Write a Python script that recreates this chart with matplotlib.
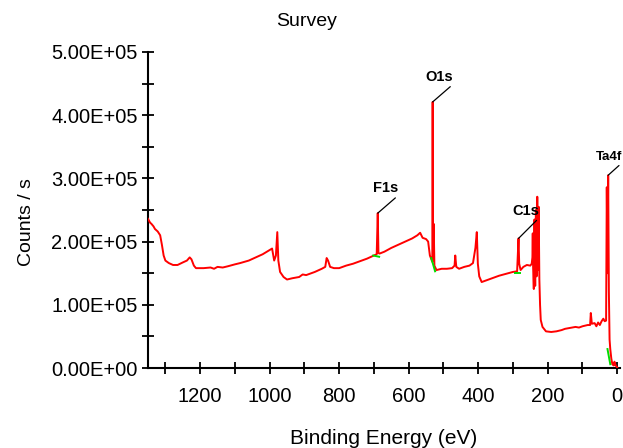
import matplotlib
matplotlib.use("Agg")
import matplotlib.pyplot as plt
from matplotlib.ticker import MultipleLocator, FuncFormatter

plt.rcParams['font.family'] = ['Liberation Sans', 'DejaVu Sans']

# Binding energy (eV) and counts/s
energy = [1350, 1344, 1340, 1334, 1330, 1322, 1315, 1310, 1305, 1300, 1290, 1278, 1265, 1250, 1238,
          1230, 1225, 1218, 1212, 1190, 1170, 1160, 1150, 1135, 1120, 1100, 1085, 1060, 1040,
          1020, 1005, 993, 987, 982, 978, 975, 970, 960, 950, 935, 915, 905, 895, 870, 850,
          840, 836, 832, 826, 815, 800, 780, 760, 740, 720, 700, 692, 689, 687, 684,
          670, 650, 630, 610, 590, 575, 567, 560, 550, 544, 539, 535, 532, 531, 530,
          528, 526, 520, 505, 490, 475, 468, 466, 463, 455, 440, 425, 415, 408, 404,
          401, 397, 390, 380, 360, 340, 320, 300, 288, 284, 282, 278, 270, 260, 250,
          246, 244, 243, 242, 240, 238, 236, 234, 232, 230, 228, 226, 224, 222, 220,
          215, 205, 190, 175, 160, 150, 140, 120, 110, 100, 85, 78, 76, 73, 65, 60, 55, 50,
          45, 40, 36, 32, 30, 28, 26, 24, 22, 20, 17, 14, 10, 8, 6, 2, 0]
counts = [2.36e5, 2.30e5, 2.28e5, 2.24e5, 2.20e5, 2.16e5, 2.10e5, 1.95e5, 1.78e5, 1.70e5,
          1.66e5, 1.63e5, 1.63e5, 1.67e5, 1.70e5, 1.75e5, 1.72e5, 1.62e5, 1.58e5, 1.58e5,
          1.59e5, 1.57e5, 1.60e5, 1.59e5, 1.61e5, 1.64e5, 1.66e5, 1.70e5, 1.75e5, 1.80e5,
          1.85e5, 1.89e5, 1.70e5, 1.78e5, 2.15e5, 1.70e5, 1.52e5, 1.44e5, 1.40e5, 1.42e5,
          1.44e5, 1.48e5, 1.47e5, 1.52e5, 1.57e5, 1.60e5, 1.74e5, 1.70e5, 1.60e5, 1.58e5,
          1.58e5, 1.62e5, 1.65e5, 1.69e5, 1.73e5, 1.78e5, 1.80e5, 2.45e5, 1.82e5, 1.81e5,
          1.84e5, 1.90e5, 1.95e5, 2.00e5, 2.05e5, 2.10e5, 2.14e5, 2.06e5, 2.04e5, 2.00e5,
          1.78e5, 1.72e5, 1.68e5, 4.21e5, 1.70e5, 2.28e5, 1.62e5, 1.55e5, 1.57e5, 1.57e5,
          1.58e5, 1.62e5, 1.78e5, 1.60e5, 1.57e5, 1.60e5, 1.62e5, 1.66e5, 1.90e5, 2.15e5,
          1.65e5, 1.45e5, 1.36e5, 1.38e5, 1.42e5, 1.46e5, 1.49e5, 1.52e5, 1.53e5, 2.05e5,
          1.65e5, 1.55e5, 1.60e5, 1.63e5, 1.62e5, 1.65e5, 1.75e5, 2.13e5, 1.60e5, 1.25e5,
          2.35e5, 1.30e5, 2.50e5, 1.45e5, 2.71e5, 1.55e5, 2.55e5, 1.40e5, 1.00e5, 0.76e5,
          0.65e5, 0.58e5, 0.57e5, 0.58e5, 0.60e5, 0.62e5, 0.63e5, 0.65e5, 0.64e5, 0.66e5,
          0.68e5, 0.68e5, 0.87e5, 0.70e5, 0.71e5, 0.66e5, 0.72e5, 0.68e5, 0.74e5, 0.78e5,
          0.74e5, 0.75e5, 2.86e5, 1.50e5, 3.05e5, 1.20e5, 0.45e5, 0.30e5, 0.15e5, 0.06e5,
          0.04e5, 0.10e5, 0.06e5, 0.02e5, 0.01e5]

# Background (green) segments under the labelled peaks
bg_energy = [[702, 685], [535, 524], [293, 279], [28, 20]]
bg_counts = [[1.78e5, 1.76e5], [1.74e5, 1.53e5], [1.50e5, 1.50e5], [0.30e5, 0.06e5]]

# Peak labels
peak_names = ["F1s", "O1s", "C1s", "Ta4f"]
peak_energy = [689, 531, 284, 26]
peak_counts = [2.45e5, 4.21e5, 2.05e5, 3.05e5]
label_offsets = [(15, 13), (15, 13), (15, 15), (10, 9)]
label_sizes = [10.5, 10.5, 10.5, 9.5]

fig = plt.figure(figsize=(6.23, 4.48), dpi=100)
ax = fig.add_axes([148 / 623, 1 - 368 / 448, 472 / 623, (368 - 52) / 448])

ax.plot(energy, counts, color='#ff0000', lw=1.4, zorder=3)
for be, bc in zip(bg_energy, bg_counts):
    ax.plot(be, bc, color='#00dd00', lw=1.4, zorder=4)

for name, pe, pc, off, fs in zip(peak_names, peak_energy, peak_counts, label_offsets, label_sizes):
    ax.annotate(name, xy=(pe, pc), xytext=off, textcoords='offset points',
                ha='right', va='bottom', fontsize=fs, fontweight='bold',
                arrowprops=dict(arrowstyle='-', color='black', lw=0.9,
                                shrinkA=0, shrinkB=0, relpos=(1, 0)),
                zorder=5, annotation_clip=False)

ax.set_xlim(1350, -8)
ax.set_ylim(0, 5e5)

ax.spines['top'].set_visible(False)
ax.spines['right'].set_visible(False)
for s in ('left', 'bottom'):
    ax.spines[s].set_linewidth(1.5)

ax.xaxis.set_major_locator(MultipleLocator(200))
ax.xaxis.set_minor_locator(MultipleLocator(100))
ax.yaxis.set_major_locator(MultipleLocator(1e5))
ax.yaxis.set_minor_locator(MultipleLocator(5e4))
ax.yaxis.set_major_formatter(FuncFormatter(lambda v, p: f"{v:.2E}"))
ax.xaxis.set_major_formatter(FuncFormatter(lambda v, p: f"{v:.0f}"))

ax.tick_params(which='both', direction='inout', length=9, width=1.3, colors='black')
ax.tick_params(axis='x', which='major', labelsize=14.5, pad=9)
ax.tick_params(axis='y', which='major', labelsize=14.5, pad=3)

fig.text(307 / 623, 1 - 22 / 448, "Survey", fontsize=14, ha='center', va='center')
ax.set_xlabel("Binding Energy (eV)", fontsize=15, labelpad=17)
ax.set_ylabel("Counts / s", fontsize=14, va='center')
ax.yaxis.set_label_coords((26 - 148) / 472, (368 - 222) / 316)

fig.savefig("out.png", dpi=100)
